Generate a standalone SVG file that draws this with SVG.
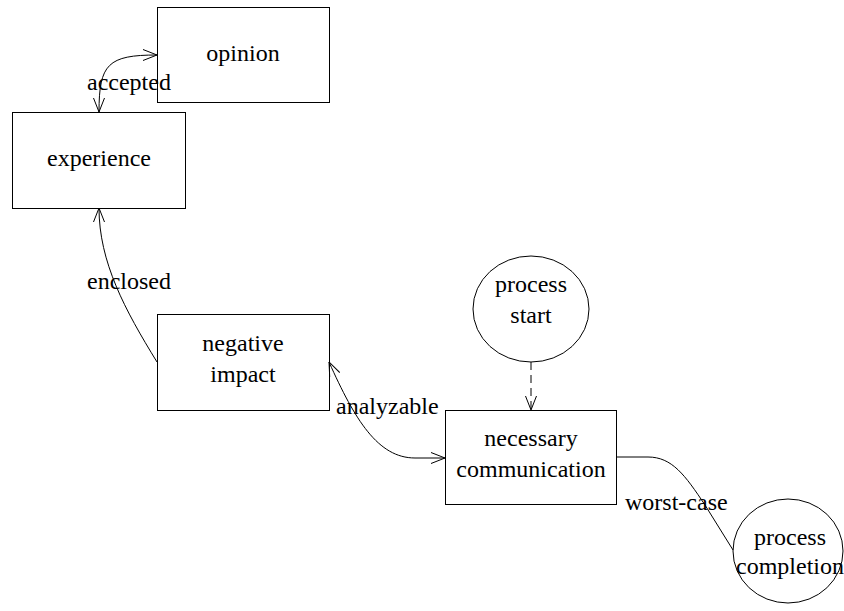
<svg xmlns="http://www.w3.org/2000/svg" width="844" height="611" viewBox="0 0 844 611">
<defs>
<style>
.n{fill:#fff;stroke:#000;stroke-width:1}
.t{font-family:"Liberation Serif","Times New Roman",serif;font-size:24px;fill:#000;text-anchor:middle}
.l{font-family:"Liberation Serif","Times New Roman",serif;font-size:24px;fill:#000}
.e{fill:none;stroke:#000;stroke-width:1}
</style>
<marker id="ah" viewBox="0 0 14 12" refX="14" refY="6" markerWidth="14" markerHeight="12" markerUnits="userSpaceOnUse" orient="auto-start-reverse">
<path d="M0,0.5 L14,6 L0,11.5" fill="none" stroke="#000" stroke-width="1"/>
</marker>
</defs>
<rect width="844" height="611" fill="#fff"/>
<g id="opinion"><rect class="n" x="157.5" y="7.5" width="172" height="95"/><text class="t" x="243" y="61">opinion</text></g>
<g id="experience"><rect class="n" x="12.5" y="112.5" width="173" height="96"/><text class="t" x="99" y="166">experience</text></g>
<g id="negative-impact"><rect class="n" x="157.5" y="314.5" width="172" height="96"/><text class="t" x="243" y="351">negative</text><text class="t" x="243" y="382">impact</text></g>
<g id="process-start"><ellipse class="n" cx="531" cy="309" rx="58" ry="53"/><text class="t" x="531" y="292">process</text><text class="t" x="531" y="323">start</text></g>
<g id="necessary-communication"><rect class="n" x="445.5" y="410.5" width="171" height="94"/><text class="t" x="531" y="446">necessary</text><text class="t" x="531" y="477">communication</text></g>
<g id="process-completion"><ellipse class="n" cx="788" cy="551" rx="55" ry="52"/><text class="t" x="790" y="545">process</text><text class="t" x="790" y="574">completion</text></g>
<g id="connectors">
<path class="e" d="M99,112 C99,64 108,55 157,55" marker-start="url(#ah)" marker-end="url(#ah)"/>
<path class="e" d="M157,362 C125,310 99,262 99,208" marker-end="url(#ah)"/>
<path class="e" d="M329,362 C355,420 378,458 415,458 L445,458" marker-start="url(#ah)" marker-end="url(#ah)"/>
<path class="e" d="M531,362 L531,410" stroke-dasharray="8,5" marker-end="url(#ah)"/>
<path class="e" d="M617,457 L648,457 C672,457 685,475 705,505 L733,550"/>
<text class="l" x="87" y="90">accepted</text>
<text class="l" x="87" y="289">enclosed</text>
<text class="l" x="336" y="414">analyzable</text>
<text class="l" x="625" y="510">worst-case</text>
</g>
</svg>
